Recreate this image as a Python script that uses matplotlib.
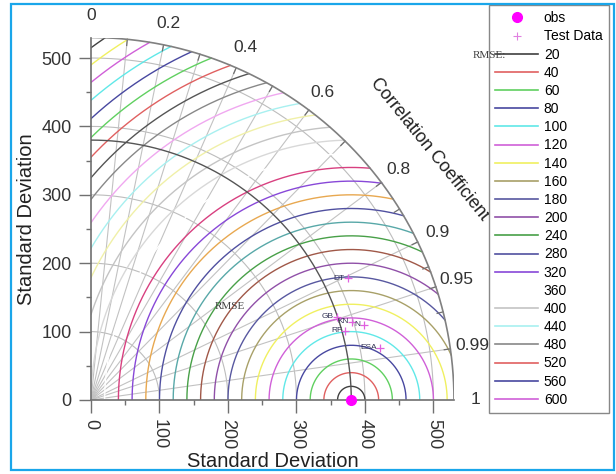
import numpy as np
import matplotlib
matplotlib.use('Agg')
import matplotlib.pyplot as plt
from matplotlib.lines import Line2D
from matplotlib.patches import Rectangle

plt.rcParams['font.family'] = ['Liberation Sans', 'DejaVu Sans']

# reference (observed) standard deviation
obs_std = 380.0
max_std = 530.0

# test data points: standard deviation and correlation
model_names = ['DT', 'GB', 'KN', 'N', 'RF', 'ESA']
model_std = [415, 380, 398, 413, 385, 429]
model_corr = [0.903, 0.947, 0.958, 0.964, 0.965, 0.984]

# centred RMSE contour levels and their colours
rmse_levels = [20, 40, 60, 80, 100, 120, 140, 160, 180, 200, 220, 240, 260, 280,
               300, 320, 340, 360, 380, 400, 420, 440, 460, 480, 500, 520, 540,
               560, 580, 600, 620, 640]
rmse_colors = ['#404040', '#e06060', '#60d060', '#4848a0', '#60e8e8', '#d060d8',
               '#f0f060', '#a8a068', '#5858a0', '#9050a8', '#a05848', '#48a048',
               '#58a8a8', '#5050a0', '#e8a850', '#8848d8', '#d84080', '#ffffff',
               '#d8d8d8', '#c4c4c4', '#f0f0a8', '#a8f0f0', '#f0a8f0', '#888888',
               '#555555', '#e06060', '#60d060', '#4848a0', '#60e8e8', '#d060d8',
               '#f0f060', '#404040']
legend_levels = [20, 40, 60, 80, 100, 120, 140, 160, 180, 200, 240, 280, 320,
                 360, 400, 440, 480, 520, 560, 600]

# correlation grid
corr_lines = [0.1, 0.2, 0.3, 0.4, 0.5, 0.6, 0.7, 0.8, 0.9, 0.95, 0.99]
corr_labels = [0, 0.2, 0.4, 0.6, 0.8, 0.9, 0.95, 0.99, 1]
corr_ticks = [0.1, 0.2, 0.3, 0.4, 0.5, 0.6, 0.7, 0.8, 0.85, 0.9, 0.93, 0.95,
              0.97, 0.99]
std_circles = [100, 200, 300, 400, 500]

fig = plt.figure(figsize=(6.16, 4.74), dpi=100)
ax = fig.add_axes([91/616, 74/474, 363/616, 362.5/474])
ax.set_xlim(0, max_std)
ax.set_ylim(0, max_std)

# std dev circles
t = np.linspace(0, np.pi/2, 400)
for s in std_circles:
    ax.plot(s*np.cos(t), s*np.sin(t), color='#bdbdbd', lw=0.8, zorder=1)
ax.plot(obs_std*np.cos(t), obs_std*np.sin(t), color='#555555', lw=1.0, zorder=3)

# correlation rays
for c in corr_lines:
    a = np.arccos(c)
    ax.plot([0, max_std*np.cos(a)], [0, max_std*np.sin(a)], color='#c2c2c2',
            lw=0.8, zorder=1)

# RMSE arcs centred on obs
tt = np.linspace(0, np.pi, 3000)
for r, col in zip(rmse_levels, rmse_colors):
    x = obs_std + r*np.cos(tt)
    y = r*np.sin(tt)
    bad = (x < 0) | (x**2 + y**2 > max_std**2)
    x = np.where(bad, np.nan, x)
    y = np.where(bad, np.nan, y)
    ax.plot(x, y, color=col, lw=1.0, zorder=2)

# outer arc and its ticks
ax.plot(max_std*np.cos(t), max_std*np.sin(t), color='#808080', lw=1.2, zorder=4)
for c in corr_ticks:
    a = np.arccos(c)
    ax.plot([max_std*np.cos(a), (max_std-9)*np.cos(a)],
            [max_std*np.sin(a), (max_std-9)*np.sin(a)], color='#707070', lw=0.9)

for c in corr_labels:
    a = np.arccos(c)
    ax.text(562*np.cos(a), 562*np.sin(a), str(c), fontsize=12.5, color='#333333',
            ha='center', va='center', clip_on=False)
ax.text(494, 366, 'Correlation Coefficient', rotation=-51, fontsize=13,
        color='#222222', ha='center', va='center', clip_on=False,
        rotation_mode='anchor')
ax.text(203, 136, 'RMSE', family='Liberation Serif', fontsize=8,
        color='#404040', ha='center', va='center')

# points
ax.plot(obs_std, 0, 'o', color='#ff00ff', ms=7, zorder=6, clip_on=False)
for name, s, c in zip(model_names, model_std, model_corr):
    a = np.arccos(c)
    px, py = s*np.cos(a), s*np.sin(a)
    ax.plot(px, py, '+', color='#e060e0', ms=6, mew=0.9, zorder=6)
    ax.text(px - 5, py, name, fontsize=6, color='#333355', ha='right',
            va='center', zorder=6)

# axes
for side in ['top', 'right']:
    ax.spines[side].set_visible(False)
for side in ['left', 'bottom']:
    ax.spines[side].set_bounds(0, max_std)
    ax.spines[side].set_color('#707070')
    ax.spines[side].set_linewidth(1.2)
ax.set_xticks(range(0, 501, 100))
ax.set_yticks(range(0, 501, 100))
ax.set_xticks(range(50, 501, 100), minor=True)
ax.set_yticks(range(50, 501, 100), minor=True)
ax.tick_params(which='major', length=9, width=1, color='#707070',
               labelsize=13, labelcolor='#333333', pad=5)
ax.tick_params(which='minor', length=3.5, width=1, color='#707070')
for lab in ax.get_xticklabels():
    lab.set_rotation(-90)
ax.set_xlabel('Standard Deviation', fontsize=14.5, color='#222222', labelpad=2)
ax.set_ylabel('Standard Deviation', fontsize=14.5, color='#222222', labelpad=4)

# legend
handles = [Line2D([], [], ls='none', marker='o', color='#ff00ff', ms=7),
           Line2D([], [], ls='none', marker='+', color='#e080e0', ms=6, mew=0.8)]
labels = ['obs', 'Test Data']
for lv in legend_levels:
    handles.append(Line2D([], [], color=rmse_colors[rmse_levels.index(lv)], lw=1.2))
    labels.append(str(lv))
leg = ax.legend(handles, labels, loc='upper left',
                bbox_to_anchor=(489/616, 1 - 5/474), bbox_transform=fig.transFigure,
                fancybox=False, edgecolor='#888888', borderaxespad=0,
                fontsize=10, handlelength=3.1, handletextpad=0.4,
                labelspacing=0.30, borderpad=0.45, framealpha=1)
leg.get_frame().set_linewidth(1.0)
fig.text(506/616, 1 - 56/474, 'RMSE:', family='Liberation Serif', fontsize=8,
         color='#404040', ha='right', va='center')

fig.patches.append(Rectangle((11/616, 4/474), 603/616, 466/474, fill=False,
                             ec='#1aa6ea', lw=1.6, transform=fig.transFigure))

fig.savefig('out.png', dpi=100)
